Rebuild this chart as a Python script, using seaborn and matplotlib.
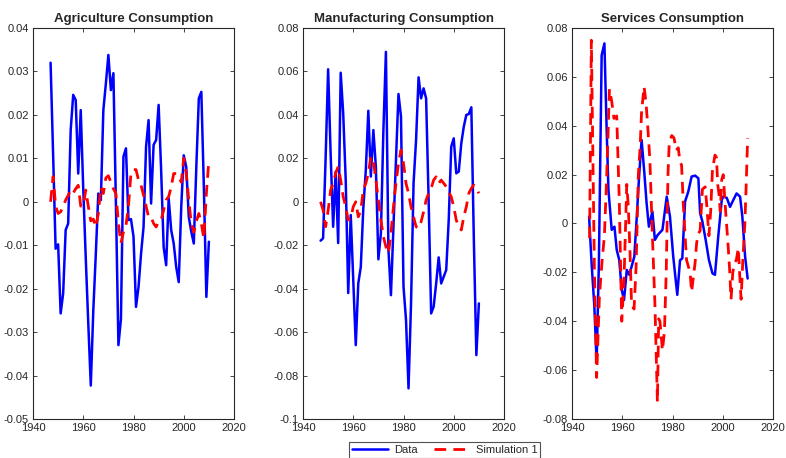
import numpy as np
import pandas as pd
import matplotlib
matplotlib.use("Agg")
import matplotlib.pyplot as plt
import seaborn as sns
from matplotlib.ticker import FuncFormatter, MultipleLocator

# ---------------- data ----------------
years = list(range(1947, 2011))

agri_data = [0.032, 0.011, -0.0108, -0.0098, -0.0257, -0.0211, -0.0065, -0.005, 0.0165, 0.0246,
             0.0234, 0.0065, 0.0211, 0.003, -0.013, -0.028, -0.0423, -0.025, -0.012, 0.0019,
             0.0004, 0.0211, 0.0272, 0.0338, 0.0257, 0.0296, -0.0004, -0.033, -0.027, 0.0104,
             0.0123, -0.0042, -0.004, -0.008, -0.0242, -0.0196, -0.012, -0.0058, 0.0127, 0.0188,
             -0.0004, 0.0131, 0.0142, 0.0223, 0.0073, -0.0104, -0.0146, 0.0008, -0.0065, -0.0096,
             -0.015, -0.0185, -0.0012, 0.0107, 0.008, -0.0035, -0.0069, -0.0096, 0.008, 0.0238,
             0.0253, 0.0034, -0.0219, -0.0092]
agri_sim = [0.000, 0.0058, -0.001, -0.0027, -0.0023, -0.001, 0.0004, 0.0015, 0.0027, 0.0020,
            0.0030, 0.0038, -0.001, -0.001, 0.0027, -0.001, -0.0044, -0.004, -0.0058, -0.0027,
            0.0034, 0.0019, 0.0055, 0.006, 0.0045, 0.003, 0.0019, -0.005, -0.0095, -0.007,
            -0.0055, -0.001, 0.0067, 0.0074, 0.0074, 0.005, 0.0038, 0.0015, -0.001, -0.0035,
            -0.0035, -0.005, -0.0058, -0.0045, -0.0042, -0.0019, 0.0004, 0.0012, 0.0034, 0.0065,
            0.0065, 0.0058, 0.0045, 0.010, 0.0065, 0.0004, -0.005, -0.007, -0.0045, -0.0027,
            -0.005, -0.0085, 0.0019, 0.0096]

manu_data = [-0.0179, -0.0168, 0.020, 0.061, 0.022, -0.0115, 0.0139, -0.019, 0.0594, 0.0407,
             0.010, -0.042, -0.0061, -0.036, -0.066, -0.0376, -0.030, -0.003, 0.0146, 0.0419,
             0.0116, 0.033, 0.0161, -0.0265, -0.0145, 0.033, 0.069, -0.022, -0.043, -0.0115,
             0.0192, 0.0496, 0.0392, -0.039, -0.0544, -0.0859, -0.0468, 0.0085, 0.0284, 0.0573,
             0.0476, 0.0522, 0.0476, 0.0008, -0.0514, -0.0483, -0.0376, -0.0256, -0.0376, -0.0345,
             -0.0314, -0.0084, 0.0254, 0.0292, 0.0131, 0.0139, 0.0269, 0.0346, 0.040, 0.0404,
             0.0435, -0.0176, -0.0706, -0.0468]
manu_sim = [0.000, -0.0038, -0.0115, -0.004, 0.0054, 0.0085, 0.0131, 0.0162, 0.010, 0.0023,
            -0.0023, -0.0084, -0.0076, -0.0023, 0.000, -0.0069, -0.004, 0.0054, 0.0085, 0.0131,
            0.0208, 0.0192, 0.010, 0.0008, -0.0084, -0.0161, -0.0207, -0.0237, -0.0145, -0.0023,
            0.0085, 0.0177, 0.0238, 0.0177, 0.0085, 0.0039, -0.0023, -0.0069, -0.0115, -0.0122,
            -0.0092, -0.0046, 0.0008, 0.0039, 0.0062, 0.010, 0.0115, 0.0085, 0.010, 0.0085,
            0.007, 0.0046, 0.0023, -0.0023, -0.0084, -0.0115, -0.013, -0.0069, -0.0023, 0.0039,
            0.0062, 0.0077, 0.0062, 0.0039]

serv_data_t = [1946.8, 1947.8, 1948.9, 1949.8, 1950.7, 1951.8, 1952.9, 1953.8, 1954.5, 1955.8,
               1956.9, 1957.8, 1958.8, 1959.8, 1960.7, 1961.8, 1962.8, 1963.7, 1964.8, 1965.7,
               1966.7, 1967.7, 1968.7, 1969.7, 1970.6, 1972.0, 1973.0, 1974.1, 1976.0, 1977.7,
               1979.0, 1980.3, 1981.9, 1983.0, 1983.9, 1985.0, 1986.3, 1987.6, 1989.0, 1990.3,
               1991.0, 1991.9, 1993.2, 1994.5, 1995.9, 1996.9, 1998.2, 1999.6, 2000.2, 2001.6,
               2002.9, 2004.2, 2005.5, 2006.9, 2007.8, 2008.9, 2009.9]
serv_data = [0.0028, -0.0163, -0.034, -0.0569, -0.0163, 0.0688, 0.0737, 0.0383, 0.0138, -0.0026,
             -0.0013, -0.0108, -0.0149, -0.0272, -0.0313, -0.019, -0.021, -0.0177, -0.0136, 0.0014,
             0.0192, 0.0342, 0.0219, 0.0082, -0.0013, 0.0049, -0.0067, -0.0047, -0.0026, 0.0110,
             0.0028, -0.0136, -0.0292, -0.015, -0.0143, 0.0090, 0.0131, 0.0192, 0.0196, 0.0185,
             0.0042, 0.0008, -0.0067, -0.0149, -0.0204, -0.021, -0.0054, 0.0096, 0.0110, 0.0105,
             0.0068, 0.0096, 0.0123, 0.0110, 0.0028, -0.0136, -0.0225]

serv_sim_t = [1947.0, 1947.7, 1948.9, 1949.8, 1950.9, 1952.0, 1952.9, 1953.8, 1954.9, 1955.8,
              1956.7, 1957.8, 1958.8, 1959.8, 1960.7, 1961.8, 1962.4, 1963.1, 1963.7, 1964.7,
              1965.5, 1966.4, 1967.1, 1967.7, 1968.7, 1969.5, 1970.0, 1971.0, 1972.0, 1973.0,
              1974.0, 1974.5, 1975.0, 1976.0, 1976.8, 1977.5, 1978.2, 1978.7, 1979.7, 1980.6,
              1981.5, 1982.3, 1983.0, 1983.6, 1984.3, 1985.0, 1985.6, 1987.0, 1987.6, 1988.3,
              1989.0, 1989.6, 1990.3, 1991.0, 1991.9, 1993.0, 1993.6, 1994.5, 1995.2, 1995.9,
              1996.9, 1997.5, 1998.0, 1998.5, 1999.0, 1999.6, 2000.2, 2000.8, 2001.5, 2002.2,
              2002.8, 2003.3, 2004.0, 2004.7, 2005.4, 2006.2, 2006.8, 2007.3, 2008.0, 2008.8,
              2009.4, 2009.9]
serv_sim = [-0.006, 0.075, -0.018, -0.063, -0.030, -0.015, -0.005, 0.019, 0.055, 0.050,
            0.043, 0.044, 0.010, -0.040, -0.023, 0.016, 0.007, -0.012, -0.033, -0.035,
            -0.018, 0.020, 0.031, 0.046, 0.056, 0.049, 0.042, 0.026, -0.005, -0.033,
            -0.073, -0.039, -0.040, -0.052, -0.044, -0.020, 0.020, 0.033, 0.036, 0.035,
            0.030, 0.031, 0.025, 0.024, 0.008, -0.005, -0.015, -0.020, -0.028, -0.022,
            -0.016, -0.008, -0.004, -0.003, 0.014, 0.015, 0.008, -0.005, 0.005, 0.022,
            0.028, 0.027, 0.016, 0.012, 0.005, 0.018, 0.020, 0.010, 0.000, -0.010,
            -0.020, -0.031, -0.020, -0.016, -0.015, -0.010, -0.022, -0.031, -0.015, 0.000,
            0.018, 0.035]

titles = ["Agriculture Consumption", "Manufacturing Consumption", "Services Consumption"]
ylims = [(-0.05, 0.04), (-0.1, 0.08), (-0.08, 0.08)]
ysteps = [0.01, 0.02, 0.02]
xticks = [1940, 1960, 1980, 2000, 2020]
legend_labels = ["Data", "Simulation 1"]

# ---------------- style ----------------
sns.set_style("ticks")
plt.rcParams["font.family"] = ["Liberation Sans", "DejaVu Sans"]
plt.rcParams["axes.unicode_minus"] = False

fig = plt.figure(figsize=(7.86, 4.58), dpi=100)
W, H = 786.0, 458.0
lefts = [33, 303, 572]
axes = [fig.add_axes([l / W, 1 - 419 / H, 201 / W, 391 / H]) for l in lefts]

panels = [
    (years, agri_data, years, agri_sim),
    (years, manu_data, years, manu_sim),
    (serv_data_t, serv_data, serv_sim_t, serv_sim),
]

fmt = FuncFormatter(lambda v, p: "0" if abs(v) < 1e-12 else ("%g" % round(v, 4)))

for ax, (tx, dv, ts, sv), title, yl, ys in zip(axes, panels, titles, ylims, ysteps):
    df_d = pd.DataFrame({"year": tx, "value": dv})
    df_s = pd.DataFrame({"year": ts, "value": sv})
    sns.lineplot(data=df_d, x="year", y="value", ax=ax, color="#0000ff",
                 linewidth=1.8, label=legend_labels[0], legend=False)
    sns.lineplot(data=df_s, x="year", y="value", ax=ax, color="#ff0000",
                 linewidth=2.0, linestyle=(0, (4.2, 2.6)), label=legend_labels[1], legend=False)
    ax.set_xlim(1940, 2020)
    ax.set_ylim(*yl)
    ax.set_xticks(xticks)
    ax.yaxis.set_major_locator(MultipleLocator(ys))
    ax.yaxis.set_major_formatter(fmt)
    ax.set_xlabel("")
    ax.set_ylabel("")
    ax.set_title(title, fontsize=9.5, fontweight="bold", pad=4)
    ax.tick_params(direction="in", top=True, right=True, length=3, width=0.6,
                   labelsize=8, colors="#262626", pad=3)
    for s in ax.spines.values():
        s.set_visible(True)
        s.set_linewidth(0.8)
        s.set_color("#262626")

handles = axes[0].get_lines()[:2]
leg = fig.legend(handles=handles, labels=legend_labels, loc="lower center", ncol=2,
                 bbox_to_anchor=(0.566, -0.012), fontsize=8, frameon=True, fancybox=False,
                 handlelength=3.2, columnspacing=1.4, borderpad=0.25, handletextpad=0.6)
leg.get_frame().set_edgecolor("#262626")
leg.get_frame().set_linewidth(0.8)

fig.savefig("out.png", dpi=100)
